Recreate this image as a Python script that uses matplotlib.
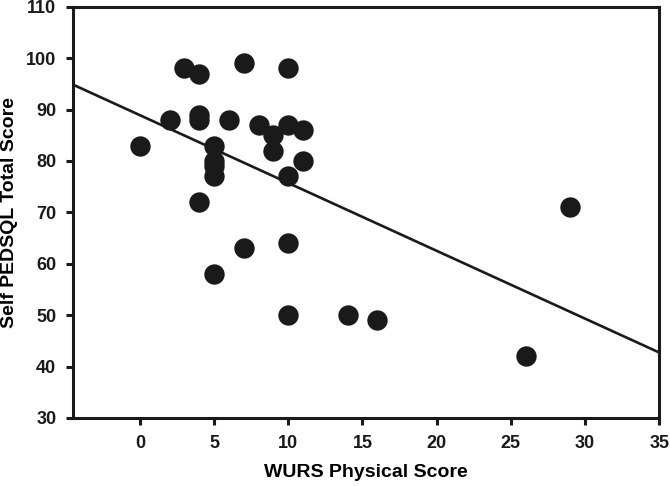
import numpy as np
import matplotlib
matplotlib.use("Agg")
import matplotlib.pyplot as plt

# WURS physical score vs self-reported PEDSQL total score
wurs = [0, 2, 3, 4, 4, 4, 4, 5, 5, 5, 5, 5, 6, 7, 7,
        8, 9, 9, 10, 10, 10, 10, 10, 11, 11, 14, 16, 26, 29]
pedsql = [83, 88, 98, 97, 89, 88, 72, 83, 80, 79, 77, 58, 88, 99, 63,
          87, 85, 82, 98, 87, 77, 64, 50, 86, 80, 50, 49, 42, 71]

x_ticks = [0, 5, 10, 15, 20, 25, 30, 35]
y_ticks = [30, 40, 50, 60, 70, 80, 90, 100, 110]

plt.rcParams["font.family"] = ["Liberation Sans", "DejaVu Sans"]
plt.rcParams["font.weight"] = "bold"

fig = plt.figure(figsize=(6.7, 4.86), dpi=100)
ax = fig.add_axes([0.109, 0.140, 0.875, 0.846])

ax.scatter(wurs, pedsql, s=215, color="#1a1a1a", zorder=3, linewidths=0)

# linear regression line
slope, intercept = np.polyfit(wurs, pedsql, 1)
xl = np.array([-4.5, 35])
ax.plot(xl, slope * xl + intercept, color="#1a1a1a", lw=1.9, zorder=2)

ax.set_xlim(-4.5, 35)
ax.set_ylim(30, 110)
ax.set_xticks(x_ticks)
ax.set_yticks(y_ticks)
ax.tick_params(direction="out", length=5, width=2.2, labelsize=13,
               colors="#1a1a1a", pad=7)
for sp in ax.spines.values():
    sp.set_linewidth(2.2)
    sp.set_color("#1a1a1a")

ax.set_xlabel("WURS Physical Score", fontsize=14, fontweight="bold")
ax.set_ylabel("Self PEDSQL Total Score", fontsize=14, fontweight="bold")
ax.xaxis.set_label_coords(0.5, -0.112)
ax.yaxis.set_label_coords(-0.094, 0.5)

fig.savefig("out.png", dpi=100)
